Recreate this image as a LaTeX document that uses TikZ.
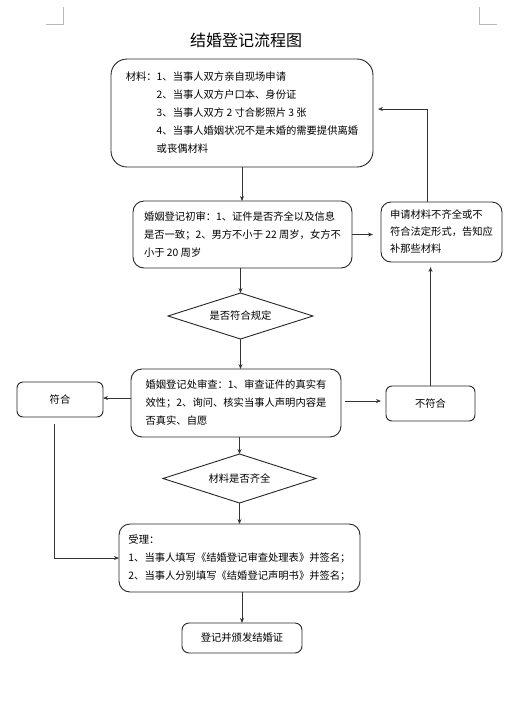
\documentclass[tikz,border=0pt]{standalone}
\usepackage{fontspec}
\setmainfont{Noto Sans CJK SC}
\usetikzlibrary{shapes.geometric,arrows.meta}
\begin{document}
\begin{tikzpicture}[x=1pt,y=-1pt,
  every node/.style={inner sep=0pt, outer sep=0pt},
  body/.style={font=\fontsize{10.3}{18}\selectfont},
  box/.style={draw=black!85, line width=0.9pt, rounded corners=#1, align=left, body},
  box/.default=8pt,
  dia/.style={draw=black!85, line width=0.9pt, diamond, aspect=3.15, align=center, body},
  conn/.style={draw=black!80, line width=0.9pt},
  arr/.style={conn, -{Stealth[length=5pt,width=4pt]}},
  cornermark/.style={draw=gray!55, line width=0.8pt}
]
\useasboundingbox (0,0) rectangle (511,705);
% corner marks
\coordinate (la) at (63,7); \coordinate (lb) at (63,24); \coordinate (lc) at (46,24);
\coordinate (ra) at (479,7); \coordinate (rb2) at (479,24); \coordinate (rc) at (497,24);
\draw[cornermark] (la) -- (lb) -- (lc);
\draw[cornermark] (ra) -- (rb2) -- (rc);

\node[font=\fontsize{16}{18}\selectfont] (title) at (246,40) {结婚登记流程图};

\node[box=16pt, minimum width=262, minimum height=108] (b1) at (242,113) {%
材料：1、当事人双方亲自现场申请\\
\hspace*{3em}2、当事人双方户口本、身份证\\
\hspace*{3em}3、当事人双方 2 寸合影照片 3 张\\
\hspace*{3em}4、当事人婚姻状况不是未婚的需要提供离婚\\
\hspace*{3em}或丧偶材料};

\node[box=11pt, minimum width=219, minimum height=67] (b2) at (242.5,234.5) {%
婚姻登记初审：1、证件是否齐全以及信息\\
是否一致；2、男方不小于 22 周岁，女方不\\
小于 20 周岁};

\node[box=10pt, minimum width=121, minimum height=60, font=\fontsize{10.3}{17}\selectfont] (rb) at (441.5,232) {%
申请材料不齐全或不\\
符合法定形式，告知应\\
补那些材料};

\node[dia, minimum width=145, minimum height=46] (d1) at (240.5,316) {是否符合规定};

\node[box=11pt, minimum width=210, minimum height=68] (b3) at (236,403) {%
婚姻登记处审查：1、审查证件的真实有\\
效性；2、询问、核实当事人声明内容是\\
否真实、自愿};

\node[box=6pt, minimum width=86, minimum height=35, align=center] (fh) at (60,399.5) {符合};
\node[box=6pt, minimum width=89, minimum height=35, align=center] (bfh) at (430.5,403.5) {不符合};

\node[dia, minimum width=153, minimum height=49] (d2) at (239.5,478.5) {材料是否齐全};

\node[box=11pt, minimum width=241, minimum height=68] (b4) at (239.5,558) {%
受理：\\
1、当事人填写《结婚登记审查处理表》并签名；\\
2、当事人分别填写《结婚登记声明书》并签名；};

\node[box=7pt, minimum width=120, minimum height=30, align=center] (fin) at (242,638) {登记并颁发结婚证};

% connectors
\draw[arr] (b1.south) -- (b1.south |- b2.north);
\draw[arr, shorten >=8pt] (b2.east) -- (b2.east -| rb.west);
\draw[arr, shorten >=5pt] ([xshift=-14pt]rb.north) |- ([yshift=4pt]b1.east);
\draw[arr] (d1.north |- b2.south) -- (d1.north);
\draw[arr] (d1.south) -- (d1.south |- b3.north);
\draw[arr] ([yshift=5pt]b3.west) -- ([yshift=5pt]b3.west -| fh.east);
\draw[arr, shorten <=4pt, shorten >=5pt] ([yshift=2pt]b3.east) -- ([yshift=2pt]b3.east -| bfh.west);
\draw[arr, shorten >=5pt] (bfh.north) -- (bfh.north |- rb.south);
\draw[arr] (d2.north |- b3.south) -- (d2.north);
\draw[arr] (d2.south) -- (d2.south |- b4.north);
\draw[arr, shorten <=7pt] ([xshift=-6pt]fh.south) |- (b4.west);
\draw[arr] (fin.north |- b4.south) -- (fin.north);
\end{tikzpicture}
\end{document}
